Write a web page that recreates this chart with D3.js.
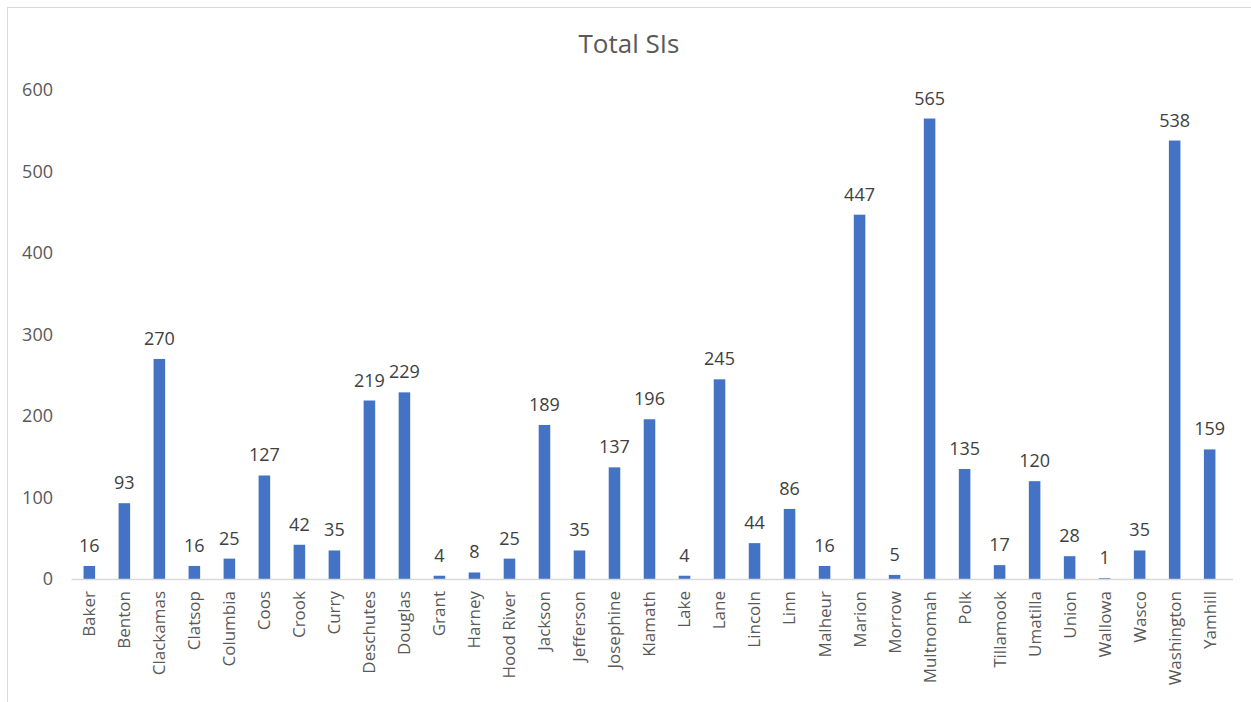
<!DOCTYPE html>
<html>
<head>
<meta charset="utf-8">
<script src="https://cdn.jsdelivr.net/npm/d3@7"></script>
<style>
  body { margin: 0; background: #fff; }
  text { font-family: "Open Sans", "Noto Sans", sans-serif; }
</style>
</head>
<body>
<div id="chart"></div>
<script>
// Data
const counties = ['Baker', 'Benton', 'Clackamas', 'Clatsop', 'Columbia', 'Coos', 'Crook', 'Curry',
  'Deschutes', 'Douglas', 'Grant', 'Harney', 'Hood River', 'Jackson', 'Jefferson', 'Josephine',
  'Klamath', 'Lake', 'Lane', 'Lincoln', 'Linn', 'Malheur', 'Marion', 'Morrow', 'Multnomah',
  'Polk', 'Tillamook', 'Umatilla', 'Union', 'Wallowa', 'Wasco', 'Washington', 'Yamhill']
const totals = [16, 93, 270, 16, 25, 127, 42, 35, 219, 229, 4, 8, 25, 189, 35, 137,
  196, 4, 245, 44, 86, 16, 447, 5, 565, 135, 17, 120, 28, 1, 35, 538, 159]
const yTicks = [0, 100, 200, 300, 400, 500, 600]
const title = 'Total SIs'

// Dimensions
let dimensions = {
  width: 1251,
  height: 702,
  margin: { top: 90, bottom: 123, left: 72, right: 24 }
}
dimensions.ctrWidth = dimensions.width - dimensions.margin.left - dimensions.margin.right
dimensions.ctrHeight = dimensions.height - dimensions.margin.top - dimensions.margin.bottom

const svg = d3.select('#chart')
  .append('svg')
  .attr('width', dimensions.width)
  .attr('height', dimensions.height)

// chart frame
svg.append('rect')
  .attr('x', 7.5)
  .attr('y', 7.5)
  .attr('width', dimensions.width + 10)
  .attr('height', dimensions.height + 10)
  .attr('fill', 'none')
  .attr('stroke', '#d9d9d9')

svg.append('text')
  .text(title)
  .attr('x', 629)
  .attr('y', 53)
  .attr('text-anchor', 'middle')
  .attr('fill', '#595959')
  .style('font-size', '26px')

const ctr = svg.append('g')
  .attr('transform', `translate(${dimensions.margin.left}, ${dimensions.margin.top})`)

// Scales
const xScale = d3.scaleBand()
  .domain(counties)
  .range([0, dimensions.ctrWidth])
  .paddingInner(0.67)
  .paddingOuter(0.33)

const yScale = d3.scaleLinear()
  .domain([0, 600])
  .range([dimensions.ctrHeight, 0])

// Bars
ctr.selectAll('rect.bar')
  .data(totals)
  .join('rect')
  .classed('bar', true)
  .attr('x', (d, i) => xScale(counties[i]))
  .attr('y', d => yScale(d))
  .attr('width', xScale.bandwidth())
  .attr('height', d => yScale(0) - yScale(d))
  .attr('fill', '#4472c4')

// Data labels
ctr.selectAll('text.lbl')
  .data(totals)
  .join('text')
  .classed('lbl', true)
  .text(d => d)
  .attr('x', (d, i) => xScale(counties[i]) + xScale.bandwidth() / 2)
  .attr('y', d => yScale(d) - 14)
  .attr('text-anchor', 'middle')
  .attr('fill', '#404040')
  .style('font-size', '18px')

// Y axis
const yAxis = d3.axisLeft(yScale)
  .tickValues(yTicks)
  .tickSize(0)
  .tickPadding(19)

const yAxisGroup = ctr.append('g').call(yAxis)
yAxisGroup.select('.domain').remove()
yAxisGroup.selectAll('text')
  .attr('fill', '#595959')
  .style('font-size', '18px')

// X axis
const xAxis = d3.axisBottom(xScale)
  .tickSize(0)
  .tickSizeOuter(0)

const xAxisGroup = ctr.append('g')
  .attr('transform', `translate(0, ${dimensions.ctrHeight})`)
  .call(xAxis)
xAxisGroup.select('.domain')
  .attr('stroke', '#d9d9d9')
  .attr('stroke-width', 1.5)
  .attr('d', `M-0.5,0.5H${dimensions.ctrWidth + 6}`)
xAxisGroup.selectAll('text')
  .attr('fill', '#595959')
  .style('font-size', '17px')
  .attr('text-anchor', 'end')
  .attr('transform', 'rotate(-90)')
  .attr('x', -12)
  .attr('y', 0)
  .attr('dy', '0.35em')
</script>
</body>
</html>
